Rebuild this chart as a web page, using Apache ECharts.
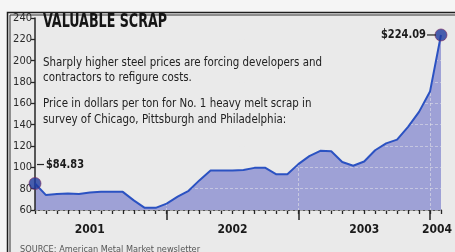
<!DOCTYPE html>
<html lang="en">
<head>
<meta charset="UTF-8" />
<script src="https://cdn.jsdelivr.net/npm/echarts@6/dist/echarts.min.js"></script>
<title>Valuable scrap</title>
<style>
  html, body { margin: 0; padding: 0; background: #f5f5f5; }
  #app { width: 455px; height: 252px; }
</style>
</head>
<body>
<div id="app"></div>
<script>
  // monthly price, No. 1 heavy melt scrap ($/ton)
  const months = [
    '2001-01', '2001-02', '2001-03', '2001-04', '2001-05', '2001-06',
    '2001-07', '2001-08', '2001-09', '2001-10', '2001-11', '2001-12',
    '2002-01', '2002-02', '2002-03', '2002-04', '2002-05', '2002-06',
    '2002-07', '2002-08', '2002-09', '2002-10', '2002-11', '2002-12',
    '2003-01', '2003-02', '2003-03', '2003-04', '2003-05', '2003-06',
    '2003-07', '2003-08', '2003-09', '2003-10', '2003-11', '2003-12',
    '2004-01', '2004-02'
  ];
  const prices = [
    84.83, 74, 75, 75.5, 75, 76.5, 77, 77, 77, 69, 62, 62,
    66, 72.5, 78, 88, 97, 97, 97, 97.5, 99.5, 99.5, 93.5, 93.5,
    103, 110.5, 115.5, 115, 105, 101.5, 105.5, 116, 122.5, 126, 138, 152,
    171, 224.09
  ];
  const yearLabelAt = [5, 18, 30, 37];
  const title = 'VALUABLE SCRAP';
  const notes = [
    'Sharply higher steel prices are forcing developers and',
    'contractors to refigure costs.',
    'Price in dollars per ton for No. 1 heavy melt scrap in',
    'survey of Chicago, Pittsburgh and Philadelphia:'
  ];
  const source = 'SOURCE: American Metal Market newsletter';

  const cond = '"DejaVu Sans Condensed", "DejaVu Sans", sans-serif';
  const ink = '#262626';
  const paper = '#eaeaea';
  const last = prices.length - 1;

  // squeeze printed text to the width it has in the clipping
  const ctx = document.createElement('canvas').getContext('2d');
  function fit(text, font, width) {
    ctx.font = font;
    return width / ctx.measureText(text).width;
  }

  const chart = echarts.init(document.getElementById('app'));
  chart.setOption({
    animation: false,
    backgroundColor: paper,
    grid: { left: 35, right: 8, top: 18, bottom: 42 },
    xAxis: [
      {
        type: 'category',
        data: months,
        boundaryGap: false,
        position: 'bottom',
        axisLine: { lineStyle: { color: ink, width: 1.5 } },
        axisTick: { interval: 0, length: 4, lineStyle: { color: ink, width: 1.3 } },
        axisLabel: {
          interval: (i) => yearLabelAt.includes(i),
          formatter: (v, i) => (i === last ? '{r|' + v.slice(0, 4) + '}' : v.slice(0, 4)),
          margin: 14,
          fontFamily: cond,
          fontWeight: 'bold',
          fontSize: 12,
          color: '#1a1a1a',
          rich: { r: { fontFamily: cond, fontWeight: 'bold', fontSize: 12, color: '#1a1a1a', padding: [0, 8, 0, 0] } }
        },
        splitLine: { show: false }
      },
      {
        // year boundaries: long ticks + faint dashed guides
        type: 'category',
        data: months,
        boundaryGap: false,
        position: 'bottom',
        z: 3,
        axisLine: { show: false },
        axisTick: { interval: (i) => i > 0 && i % 12 === 0, length: 10, lineStyle: { color: ink, width: 1.5 } },
        axisLabel: { show: false },
        splitLine: {
          show: true,
          interval: (i) => i > 0 && i % 12 === 0,
          lineStyle: { color: paper, opacity: 0.55, type: [3, 2] }
        }
      }
    ],
    yAxis: {
      type: 'value',
      min: 60,
      max: 240,
      interval: 20,
      z: 3,
      axisLine: { show: true, lineStyle: { color: ink, width: 1.5 } },
      axisTick: { show: true, length: 4, lineStyle: { color: ink, width: 1.3 } },
      axisLabel: { margin: 3, fontFamily: cond, fontSize: 11, color: '#2a2a2a' },
      // paper tone: only shows over the shaded area
      splitLine: { show: true, lineStyle: { color: paper, opacity: 0.5, type: [3, 2] } }
    },
    series: [
      {
        type: 'line',
        data: prices,
        symbol: 'none',
        z: 2,
        lineStyle: { width: 0 },
        areaStyle: { color: '#9ea1d6', opacity: 1 }
      },
      {
        type: 'line',
        data: prices,
        symbol: 'none',
        z: 4,
        lineStyle: { color: '#2b52c2', width: 2 }
      },
      {
        type: 'scatter',
        data: [[0, prices[0]], [last, prices[last]]],
        symbolSize: 12,
        clip: false,
        z: 5,
        itemStyle: { color: '#1d3a9e', borderColor: '#7a2a60', borderWidth: 0.8 }
      }
    ]
  });

  const p0 = chart.convertToPixel({ xAxisIndex: 0, yAxisIndex: 0 }, [0, prices[0]]);
  const p1 = chart.convertToPixel({ xAxisIndex: 0, yAxisIndex: 0 }, [last, prices[last]]);

  const titleFont = 'bold 19px ' + cond;
  const noteFont = '12px ' + cond;
  const callFont = 'bold 12px ' + cond;
  const srcFont = '9px ' + cond;
  const noteScale = fit(notes[0], noteFont, 279);
  const noteY = [63, 78, 104, 120];
  const lab0 = '$' + prices[0].toFixed(2);
  const lab1 = '$' + prices[last].toFixed(2);

  const graphics = [
    // paper edge outside the clipping frame
    { type: 'rect', shape: { x: 0, y: 0, width: 7, height: 252 }, style: { fill: '#f5f5f5' }, z: 10 },
    { type: 'rect', shape: { x: 0, y: 0, width: 455, height: 12 }, style: { fill: '#f5f5f5' }, z: 10 },
    { type: 'polyline', shape: { points: [[7.5, 252], [7.5, 12.5], [455, 12.5]] }, style: { stroke: '#1e1e1e', lineWidth: 1.5, fill: null }, z: 10 },
    { type: 'polyline', shape: { points: [[10, 252], [10, 15], [455, 15]] }, style: { stroke: '#333', lineWidth: 1, fill: null }, z: 10 },
    {
      type: 'text', x: 43, y: 22, scaleX: fit(title, titleFont, 124), z: 10,
      style: { text: title, font: titleFont, fill: '#151515', textVerticalAlign: 'middle' }
    },
    {
      type: 'text', x: 20, y: 250, scaleX: fit(source, srcFont, 180), z: 10,
      style: { text: source, font: srcFont, fill: '#555', textVerticalAlign: 'middle' }
    },
    // callouts
    { type: 'line', shape: { x1: p0[0] + 2, y1: p0[1] - 19, x2: p0[0] + 9, y2: p0[1] - 19 }, style: { stroke: ink, lineWidth: 1.2 }, z: 10 },
    {
      type: 'text', x: p0[0] + 11, y: p0[1] - 19, scaleX: fit(lab0, callFont, 38), z: 10,
      style: { text: lab0, font: callFont, fill: '#1a1a1a', textVerticalAlign: 'middle' }
    },
    { type: 'line', shape: { x1: p1[0] - 14, y1: p1[1], x2: p1[0] - 5, y2: p1[1] }, style: { stroke: ink, lineWidth: 1.2 }, z: 10 },
    {
      type: 'text', x: p1[0] - 15, y: p1[1], scaleX: fit(lab1, callFont, 45), z: 10,
      style: { text: lab1, font: callFont, fill: '#1a1a1a', textAlign: 'right', textVerticalAlign: 'middle' }
    }
  ];
  notes.forEach((t, i) => {
    graphics.push({
      type: 'text', x: 43, y: noteY[i], scaleX: noteScale, z: 10,
      style: { text: t, font: noteFont, fill: '#222', textVerticalAlign: 'middle' }
    });
  });
  chart.setOption({ graphic: graphics });
</script>
</body>
</html>
